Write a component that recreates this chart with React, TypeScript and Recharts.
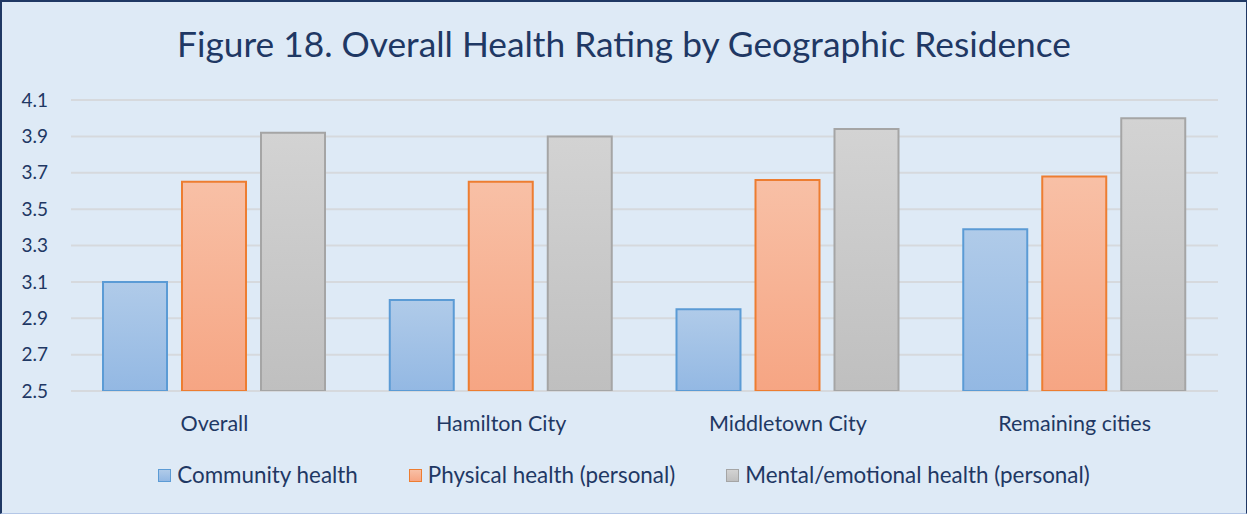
import React from "react";
import { BarChart, Bar, XAxis, YAxis, CartesianGrid } from "recharts";

const categories = ["Overall", "Hamilton City", "Middletown City", "Remaining cities"];
const communityHealth = [3.1, 3.0, 2.95, 3.39];
const physicalHealth = [3.65, 3.65, 3.66, 3.68];
const mentalHealth = [3.92, 3.9, 3.94, 4.0];
const yTicks = [2.5, 2.7, 2.9, 3.1, 3.3, 3.5, 3.7, 3.9, 4.1];
const seriesNames = ["Community health", "Physical health (personal)", "Mental/emotional health (personal)"];

const data = categories.map((c, i) => ({
  name: c,
  community: communityHealth[i],
  physical: physicalHealth[i],
  mental: mentalHealth[i],
}));

const NAVY = "#1F3864";
const FONT = "Lato, 'Open Sans', sans-serif";

const legendItems = [
  { name: seriesNames[0], top: "#B0CBE9", bottom: "#93B8E3", stroke: "#5B9BD5" },
  { name: seriesNames[1], top: "#F8C0A6", bottom: "#F6A583", stroke: "#ED7D31" },
  { name: seriesNames[2], top: "#D3D3D3", bottom: "#BFBFBF", stroke: "#A5A5A5" },
];

export default function App() {
  return (
    <div
      style={{
        position: "absolute",
        left: 0,
        top: 0,
        width: 1247,
        height: 514,
        boxSizing: "border-box",
        background: "#DEEAF6",
        borderTop: `2px solid ${NAVY}`,
        borderLeft: `2px solid ${NAVY}`,
        borderRight: `1px solid ${NAVY}`,
        borderBottom: "1px solid #B4C7E7",
        fontFamily: FONT,
        overflow: "hidden",
      }}
    >
      <div
        style={{
          position: "absolute",
          left: 0,
          right: 0,
          top: 19,
          textAlign: "center",
          fontSize: 35.3,
          color: NAVY,
          lineHeight: "46px",
          whiteSpace: "nowrap",
        }}
      >
        Figure 18. Overall Health Rating by Geographic Residence
      </div>
      <div style={{ position: "absolute", left: -2, top: -2 }}>
        <BarChart
          width={1247}
          height={514}
          data={data}
          margin={{ top: 100, right: 29, bottom: 83, left: 0 }}
          barSize={64}
          barGap={15}
        >
          <defs>
            {legendItems.map((s, i) => (
              <linearGradient key={i} id={`g${i}`} x1="0" y1="0" x2="0" y2="1">
                <stop offset="0%" stopColor={s.top} />
                <stop offset="100%" stopColor={s.bottom} />
              </linearGradient>
            ))}
          </defs>
          <CartesianGrid vertical={false} stroke="#D6D9DD" strokeWidth={2} />
          <XAxis
            dataKey="name"
            axisLine={false}
            tickLine={false}
            tickSize={0}
            tickMargin={25}
            height={40}
            tick={{ fill: NAVY, fontSize: 21.5, fontFamily: FONT }}
          />
          <YAxis
            domain={[2.5, 4.1]}
            ticks={yTicks}
            allowDataOverflow
            axisLine={false}
            tickLine={false}
            tickSize={0}
            tickMargin={23}
            width={71}
            tickFormatter={(v: number) => v.toFixed(1)}
            tick={{ fill: NAVY, fontSize: 19, fontFamily: FONT }}
          />
          <Bar dataKey="community" name={seriesNames[0]} fill="url(#g0)" stroke={legendItems[0].stroke} strokeWidth={2} isAnimationActive={false} />
          <Bar dataKey="physical" name={seriesNames[1]} fill="url(#g1)" stroke={legendItems[1].stroke} strokeWidth={2} isAnimationActive={false} />
          <Bar dataKey="mental" name={seriesNames[2]} fill="url(#g2)" stroke={legendItems[2].stroke} strokeWidth={2} isAnimationActive={false} />
        </BarChart>
      </div>
      <div
        style={{
          position: "absolute",
          left: 0,
          right: 0,
          top: 458,
          display: "flex",
          justifyContent: "center",
          gap: 51,
          fontSize: 22.4,
          color: NAVY,
          lineHeight: "30px",
        }}
      >
        {legendItems.map((s, i) => (
          <div key={i} style={{ display: "flex", alignItems: "center", gap: 6 }}>
            <span
              style={{
                display: "inline-block",
                width: 11,
                height: 11,
                border: `1.5px solid ${s.stroke}`,
                background: `linear-gradient(${s.top}, ${s.bottom})`,
              }}
            />
            <span>{s.name}</span>
          </div>
        ))}
      </div>
    </div>
  );
}
